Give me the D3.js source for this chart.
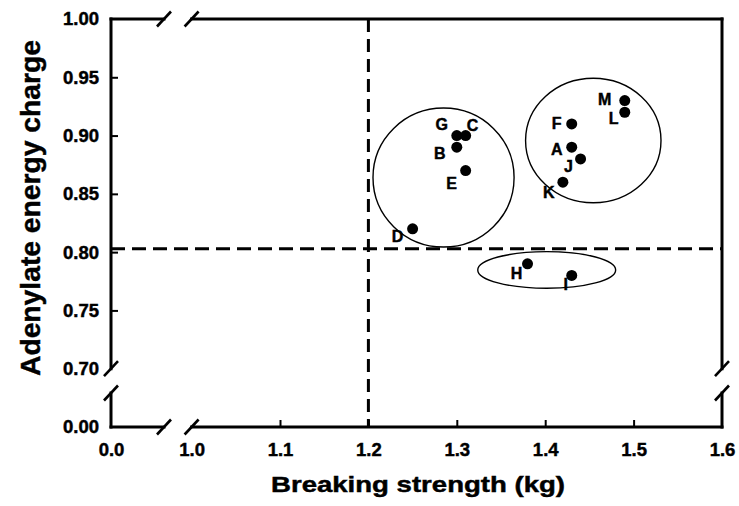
<!DOCTYPE html>
<html>
<head>
<meta charset="utf-8">
<script src="https://cdn.jsdelivr.net/npm/d3@7"></script>
<style>
  html, body { margin: 0; padding: 0; background: #fff; }
  svg { display: block; }
  text { font-family: "Liberation Sans", Arial, sans-serif; font-weight: bold; fill: #000; stroke: #000; stroke-width: 0.45px; }
</style>
</head>
<body>
<svg id="chart" width="739" height="506"></svg>
<script>
// ---- data ----
const labels = ["A","B","C","D","E","F","G","H","I","J","K","L","M"];
const breakingStrength = [1.43, 1.30, 1.31, 1.25, 1.31, 1.43, 1.30, 1.38, 1.43, 1.44, 1.42, 1.49, 1.49];
const energyCharge     = [0.89, 0.89, 0.90, 0.82, 0.87, 0.91, 0.90, 0.79, 0.78, 0.88, 0.86, 0.92, 0.93];
const xTickValuesHigh = [1.0, 1.1, 1.2, 1.3, 1.4, 1.5, 1.6];
const xTickValuesLow = [0.0];
const yTickValuesHigh = [0.70, 0.75, 0.80, 0.85, 0.90, 0.95, 1.00];
const yTickValuesLow = [0.00];
const xThreshold = 1.2;
const yThreshold = 0.803;
// group ellipses: center and radii in data units
const groupCx = [1.285, 1.4544, 1.4017];
const groupCy = [0.864, 0.8958, 0.7847];
const groupRx = [0.0798, 0.0766, 0.078];
const groupRy = [0.0596, 0.0534, 0.0157];
const xTitle = "Breaking strength (kg)";
const yTitle = "Adenylate energy charge";

// label placement offsets (px, style only)
const labelDx = {A:-15, B:-17, C:7, D:-15, E:-14, F:-15, G:-15, H:-11, I:-6, J:-12, K:-14, L:-11, M:-20};
const labelDy = {A:2, B:6, C:-10, D:8, E:13, F:0, G:-11, H:10, I:9, J:8, K:10, L:6, M:-1};

// ---- layout ----
const svg = d3.select("#chart");
const L = 111, R = 722, T = 19, B = 427;

const xLow = d3.scaleLinear().domain([0, 0.06]).range([L, 164]);
const xHigh = d3.scaleLinear().domain([1.0, 1.6]).range([191.6, R]);
const yHigh = d3.scaleLinear().domain([0.70, 1.00]).range([368.7, T]);
const yLow = d3.scaleLinear().domain([0, 0.029]).range([B, 393]);

const frame = svg.append("g").attr("stroke", "#000").attr("stroke-width", 3).attr("fill", "none").attr("stroke-linecap", "square");
const seg = (x1, y1, x2, y2) => frame.append("line").attr("x1", x1).attr("y1", y1).attr("x2", x2).attr("y2", y2);

const xb1 = xLow(0.06), xb2 = xHigh(1.0), xe = xHigh(1.6), xs = xLow(0);
const yb1 = yHigh(0.70), yb2 = yLow(0.029), ye = yHigh(1.0), ys = yLow(0);
[ye, ys].forEach(y => { seg(xs, y, xb1, y); seg(xb2, y, xe, y); });
[xs, xe].forEach(x => { seg(x, ye, x, yb1); seg(x, yb2, x, ys); });

// break slashes
const slashes = svg.append("g").attr("stroke", "#000").attr("stroke-width", 2.6);
function slash(cx, cy) {
  slashes.append("line").attr("x1", cx - 7).attr("y1", cy + 7.5).attr("x2", cx + 7).attr("y2", cy - 7.5);
}
[ye, ys].forEach(y => { slash(xb1, y); slash(xb2, y); });
[xs, xe].forEach(x => { slash(x, yb1); slash(x, yb2); });

// ---- axes (labels + inner ticks) ----
const endX = [1.0, 1.6], endY = [0.70, 1.00];
function styleAxis(g) {
  g.select(".domain").remove();
  g.attr("font-size", null).attr("font-family", null);
  g.selectAll("text").style("font-size", "18.5px").style("font-family", '"Liberation Sans", Arial, sans-serif').style("font-weight", "bold");
  g.selectAll("line").attr("stroke", "#000").attr("stroke-width", 2);
}
const axXH = svg.append("g").attr("transform", `translate(0,${B})`)
  .call(d3.axisBottom(xHigh).tickValues(xTickValuesHigh).tickSizeInner(-7).tickSizeOuter(0).tickPadding(16).tickFormat(d3.format(".1f")));
styleAxis(axXH);
axXH.selectAll(".tick").filter(d => endX.includes(d)).select("line").remove();
const axXL = svg.append("g").attr("transform", `translate(0,${B})`)
  .call(d3.axisBottom(xLow).tickValues(xTickValuesLow).tickSize(0).tickPadding(16).tickFormat(d3.format(".1f")));
styleAxis(axXL);

const axYH = svg.append("g").attr("transform", `translate(${L},0)`)
  .call(d3.axisLeft(yHigh).tickValues(yTickValuesHigh).tickSizeInner(-7).tickSizeOuter(0).tickPadding(12).tickFormat(d3.format(".2f")));
styleAxis(axYH);
axYH.selectAll(".tick").filter(d => endY.includes(d)).select("line").remove();
const axYL = svg.append("g").attr("transform", `translate(${L},0)`)
  .call(d3.axisLeft(yLow).tickValues(yTickValuesLow).tickSize(0).tickPadding(12).tickFormat(d3.format(".2f")));
styleAxis(axYL);

// ---- threshold dashed lines ----
svg.append("line")
  .attr("x1", xHigh(xThreshold)).attr("x2", xHigh(xThreshold))
  .attr("y1", ye).attr("y2", ys)
  .attr("stroke", "#000").attr("stroke-width", 3).attr("stroke-dasharray", "13,7");
svg.append("line")
  .attr("x1", xs).attr("x2", xe)
  .attr("y1", yHigh(yThreshold)).attr("y2", yHigh(yThreshold))
  .attr("stroke", "#000").attr("stroke-width", 3).attr("stroke-dasharray", "14,7");

// ---- group ellipses ----
svg.append("g").selectAll("ellipse").data(groupCx.map((c, i) => i)).join("ellipse")
  .attr("cx", i => xHigh(groupCx[i]))
  .attr("cy", i => yHigh(groupCy[i]))
  .attr("rx", i => xHigh(groupCx[i] + groupRx[i]) - xHigh(groupCx[i]))
  .attr("ry", i => yHigh(groupCy[i]) - yHigh(groupCy[i] + groupRy[i]))
  .attr("fill", "none").attr("stroke", "#000").attr("stroke-width", 1.4);

// ---- points ----
const pts = labels.map((l, i) => ({ label: l, x: breakingStrength[i], y: energyCharge[i] }));
svg.append("g").selectAll("circle").data(pts).join("circle")
  .attr("cx", d => xHigh(d.x)).attr("cy", d => yHigh(d.y)).attr("r", 5.5).attr("fill", "#000");
svg.append("g").selectAll("text").data(pts).join("text")
  .attr("x", d => xHigh(d.x) + labelDx[d.label])
  .attr("y", d => yHigh(d.y) + labelDy[d.label])
  .attr("text-anchor", "middle").attr("dominant-baseline", "central")
  .style("font-size", "16px").text(d => d.label);

// ---- axis titles ----
svg.append("text").attr("x", 418).attr("y", 492).attr("text-anchor", "middle")
  .style("font-size", "22px").attr("textLength", 294).attr("lengthAdjust", "spacingAndGlyphs").text(xTitle);
svg.append("text").attr("transform", "translate(40,208) rotate(-90)").attr("text-anchor", "middle")
  .style("font-size", "28px").attr("textLength", 336).attr("lengthAdjust", "spacingAndGlyphs").text(yTitle);
</script>
</body>
</html>
